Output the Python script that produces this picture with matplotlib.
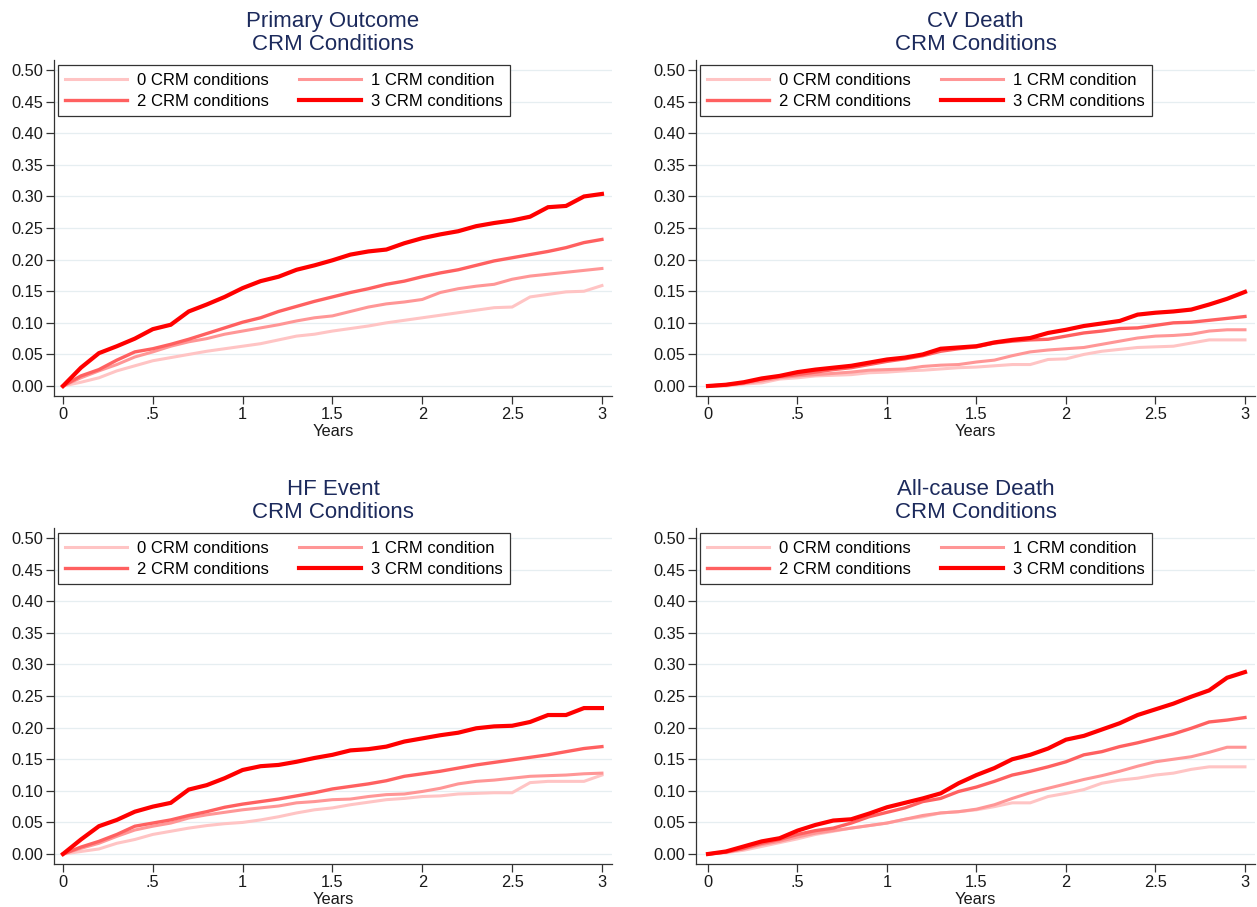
import matplotlib
matplotlib.use("Agg")
import matplotlib.pyplot as plt

plt.rcParams['font.family'] = ['Liberation Sans', 'DejaVu Sans']

# time grid (years) the curves were read at
years = [round(i * 0.1, 1) for i in range(31)]

labels = ['0 CRM conditions', '1 CRM condition', '2 CRM conditions', '3 CRM conditions']
colors = ['#ffc4c4', '#ff9696', '#ff6060', '#ff0000']
widths = [2.2, 2.2, 2.4, 3.0]

# Primary Outcome
primary_0 = [0, 0.006, 0.013, 0.024, 0.032, 0.040, 0.045, 0.050, 0.055, 0.059, 0.063, 0.067, 0.073, 0.079, 0.082, 0.087,
             0.091, 0.095, 0.100, 0.104, 0.108, 0.112, 0.116, 0.120, 0.124, 0.125, 0.141, 0.145, 0.149, 0.150, 0.159]
primary_1 = [0, 0.013, 0.024, 0.034, 0.046, 0.054, 0.063, 0.070, 0.075, 0.082, 0.087, 0.092, 0.097, 0.103, 0.108, 0.111,
             0.118, 0.125, 0.130, 0.133, 0.137, 0.148, 0.154, 0.158, 0.161, 0.169, 0.174, 0.177, 0.180, 0.183, 0.186]
primary_2 = [0, 0.016, 0.026, 0.041, 0.054, 0.059, 0.066, 0.074, 0.083, 0.092, 0.101, 0.108, 0.118, 0.126, 0.134, 0.141,
             0.148, 0.154, 0.161, 0.166, 0.173, 0.179, 0.184, 0.191, 0.198, 0.203, 0.208, 0.213, 0.219, 0.227, 0.232]
primary_3 = [0, 0.029, 0.052, 0.063, 0.075, 0.090, 0.097, 0.118, 0.129, 0.141, 0.155, 0.166, 0.173, 0.184, 0.191, 0.199,
             0.208, 0.213, 0.216, 0.226, 0.234, 0.240, 0.245, 0.253, 0.258, 0.262, 0.268, 0.283, 0.285, 0.300, 0.304]

# CV Death
cv_0 = [0, 0.000, 0.003, 0.005, 0.011, 0.013, 0.016, 0.017, 0.018, 0.021, 0.022, 0.024, 0.025, 0.027, 0.029, 0.030,
        0.032, 0.034, 0.034, 0.042, 0.043, 0.050, 0.055, 0.058, 0.061, 0.062, 0.063, 0.068, 0.073, 0.073, 0.073]
cv_1 = [0, 0.001, 0.004, 0.008, 0.013, 0.016, 0.018, 0.020, 0.022, 0.025, 0.026, 0.027, 0.031, 0.033, 0.034, 0.038,
        0.041, 0.048, 0.054, 0.057, 0.059, 0.061, 0.066, 0.071, 0.076, 0.079, 0.080, 0.082, 0.087, 0.089, 0.089]
cv_2 = [0, 0.002, 0.005, 0.011, 0.015, 0.018, 0.022, 0.026, 0.029, 0.034, 0.039, 0.043, 0.048, 0.055, 0.059, 0.062,
        0.068, 0.071, 0.073, 0.074, 0.079, 0.084, 0.087, 0.091, 0.092, 0.096, 0.100, 0.101, 0.104, 0.107, 0.110]
cv_3 = [0, 0.002, 0.006, 0.012, 0.016, 0.022, 0.026, 0.029, 0.032, 0.037, 0.042, 0.045, 0.050, 0.059, 0.061, 0.063,
        0.069, 0.073, 0.076, 0.084, 0.089, 0.095, 0.099, 0.103, 0.113, 0.116, 0.118, 0.121, 0.129, 0.138, 0.149]

# HF Event
hf_0 = [0, 0.004, 0.008, 0.017, 0.023, 0.031, 0.036, 0.041, 0.045, 0.048, 0.050, 0.054, 0.059, 0.065, 0.070, 0.073,
        0.078, 0.082, 0.086, 0.088, 0.091, 0.092, 0.095, 0.096, 0.097, 0.097, 0.113, 0.115, 0.115, 0.115, 0.125]
hf_1 = [0, 0.009, 0.017, 0.028, 0.038, 0.044, 0.049, 0.057, 0.062, 0.066, 0.070, 0.073, 0.076, 0.081, 0.083, 0.086,
        0.087, 0.091, 0.094, 0.095, 0.099, 0.104, 0.111, 0.115, 0.117, 0.120, 0.123, 0.124, 0.125, 0.127, 0.128]
hf_2 = [0, 0.011, 0.020, 0.031, 0.044, 0.049, 0.054, 0.061, 0.067, 0.074, 0.079, 0.083, 0.087, 0.092, 0.097, 0.103,
        0.107, 0.111, 0.116, 0.123, 0.127, 0.131, 0.136, 0.141, 0.145, 0.149, 0.153, 0.157, 0.162, 0.167, 0.170]
hf_3 = [0, 0.023, 0.044, 0.054, 0.067, 0.075, 0.081, 0.102, 0.109, 0.120, 0.133, 0.139, 0.141, 0.146, 0.152, 0.157,
        0.164, 0.166, 0.170, 0.178, 0.183, 0.188, 0.192, 0.199, 0.202, 0.203, 0.209, 0.220, 0.220, 0.231, 0.231]

# All-cause Death
acd_0 = [0, 0.002, 0.006, 0.012, 0.018, 0.024, 0.031, 0.036, 0.041, 0.045, 0.049, 0.055, 0.059, 0.065, 0.067, 0.070,
         0.075, 0.081, 0.081, 0.091, 0.096, 0.102, 0.112, 0.117, 0.120, 0.125, 0.128, 0.134, 0.138, 0.138, 0.138]
acd_1 = [0, 0.003, 0.008, 0.015, 0.020, 0.027, 0.033, 0.037, 0.041, 0.045, 0.049, 0.055, 0.061, 0.065, 0.067, 0.071,
         0.078, 0.088, 0.097, 0.104, 0.111, 0.118, 0.124, 0.131, 0.139, 0.146, 0.150, 0.154, 0.161, 0.169, 0.169]
acd_2 = [0, 0.003, 0.009, 0.017, 0.023, 0.031, 0.037, 0.041, 0.049, 0.059, 0.066, 0.073, 0.083, 0.088, 0.099, 0.106,
         0.115, 0.125, 0.131, 0.138, 0.146, 0.157, 0.162, 0.170, 0.176, 0.183, 0.190, 0.199, 0.209, 0.212, 0.216]
acd_3 = [0, 0.004, 0.012, 0.020, 0.025, 0.037, 0.046, 0.053, 0.055, 0.064, 0.074, 0.081, 0.088, 0.096, 0.112, 0.125,
         0.136, 0.150, 0.157, 0.167, 0.181, 0.187, 0.197, 0.207, 0.220, 0.229, 0.238, 0.249, 0.259, 0.279, 0.288]

panels = [
    ('Primary Outcome\nCRM Conditions', [primary_0, primary_1, primary_2, primary_3]),
    ('CV Death\nCRM Conditions', [cv_0, cv_1, cv_2, cv_3]),
    ('HF Event\nCRM Conditions', [hf_0, hf_1, hf_2, hf_3]),
    ('All-cause Death\nCRM Conditions', [acd_0, acd_1, acd_2, acd_3]),
]

yticks = [0.0, 0.05, 0.10, 0.15, 0.20, 0.25, 0.30, 0.35, 0.40, 0.45, 0.50]
xticks = [0, 0.5, 1, 1.5, 2, 2.5, 3]
xticklabels = ['0', '.5', '1', '1.5', '2', '2.5', '3']

W, H = 1257, 907
fig = plt.figure(figsize=(W / 100, H / 100), dpi=100)

# axes boxes in pixels: left, right, top, bottom
boxes = [(54, 612, 60, 396), (696, 1255, 60, 396), (54, 612, 528, 864), (696, 1255, 528, 864)]
xmins = [-0.05, -0.067, -0.05, -0.067]

for i, (title, series) in enumerate(panels):
    l, r, t, b = boxes[i]
    ax = fig.add_axes([l / W, 1 - b / H, (r - l) / W, (b - t) / H])
    for yv in yticks:
        ax.axhline(yv, color='#e6eef1', lw=0.9, zorder=0)
    lines = []
    for k in range(4):
        ln, = ax.plot(years, series[k], color=colors[k], lw=widths[k], label=labels[k],
                      solid_joinstyle='miter', zorder=2 + k)
        lines.append(ln)
    ax.set_xlim(xmins[i], 3.056)
    ax.set_ylim(-0.0158, 0.516)
    ax.set_yticks(yticks)
    ax.set_yticklabels(['%.2f' % v for v in yticks])
    ax.set_xticks(xticks)
    ax.set_xticklabels(xticklabels)
    ax.tick_params(direction='out', length=6, width=0.9, colors='#333333', labelcolor='#1a1a1a',
                   labelsize=11.8, pad=2)
    for s in ['top', 'right']:
        ax.spines[s].set_visible(False)
    for s in ['left', 'bottom']:
        ax.spines[s].set_color('#333333')
        ax.spines[s].set_linewidth(0.9)
    ax.set_xlabel('Years', fontsize=11.8, color='#1a1a1a', labelpad=1)
    ax.set_title(title, fontsize=16, color='#1c2a5c', linespacing=1.12, pad=7)
    # legend fills column-wise, so reorder to get 0,1 on the first row
    order = [0, 2, 1, 3]
    leg = ax.legend([lines[j] for j in order], [labels[j] for j in order], ncol=2,
                    loc='upper left', bbox_to_anchor=(0.007, 0.985), borderaxespad=0,
                    fontsize=12, handlelength=3.7, handletextpad=0.6, columnspacing=1.8,
                    labelspacing=0.38, borderpad=0.45, fancybox=False, framealpha=1)
    leg.get_frame().set_edgecolor('#333333')
    leg.get_frame().set_linewidth(0.9)

plt.savefig('out.png', dpi=100, facecolor='white')
